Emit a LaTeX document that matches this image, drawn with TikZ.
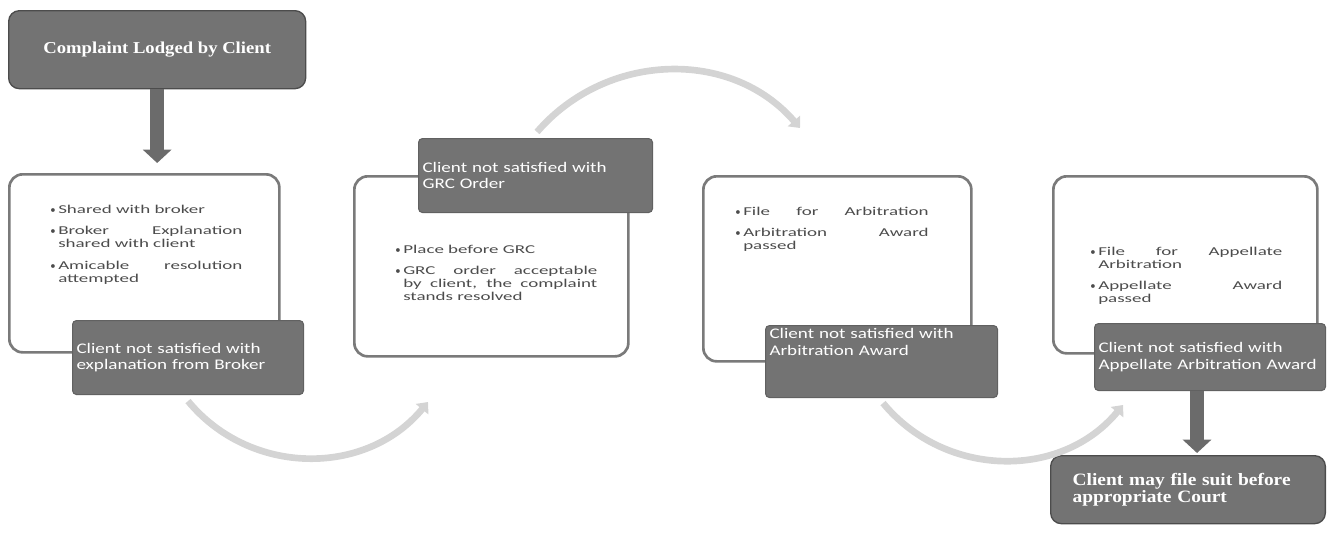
\documentclass[tikz,border=0pt]{standalone}
\usepackage{fontspec}
\newfontfamily\carl{Carlito}
\newfontfamily\carlw[FakeStretch=1.58]{Carlito}
\newfontfamily\carlm[FakeStretch=1.3]{Carlito}
\newfontfamily\tmsw[FakeStretch=1.12]{Liberation Serif}
\usetikzlibrary{arrows.meta,calc}
\newcommand\bul[1]{\noindent\hangindent=6pt\hangafter=1\makebox[6pt][l]{\carl\fontsize{8}{10}\selectfont\textbullet}#1\par}
\newcommand\gap{\vspace{6.5pt}}
\begin{document}
\begin{tikzpicture}[x=0.75pt,y=-0.75pt,
  outline/.style={draw=black!52, line width=2pt, rounded corners=10pt, fill=white, anchor=north west, inner sep=0pt},
  dark/.style={fill=black!55, draw=black!62, line width=0.8pt, rounded corners=3pt, text=white, anchor=north west,
    font=\carlm\fontsize{11}{12.5}\selectfont, align=left, inner xsep=3pt, inner ysep=2pt},
  bigbox/.style={fill=black!55, draw=black!70, line width=1pt, rounded corners=8pt, text=white, anchor=north west,
    font=\tmsw\bfseries\fontsize{12.5}{14}\selectfont, align=left},
  bullets/.style={anchor=base west, inner sep=0pt, align=justify, text=black!70,
    font=\carlw\fontsize{9}{9.75}\selectfont},
  downarr/.style={draw=black!58, line width=10.5pt, -{Triangle[length=10pt,width=21pt]}},
  curvarr/.style={draw=black!17, line width=5pt, -{Triangle[length=7pt,width=12pt]}}
]
\useasboundingbox (0,0) rectangle (1333,536);

% outlined step boxes
\node[outline, minimum width=202.5pt, minimum height=133.5pt] (b1) at (8,173) {};
\node[outline, minimum width=205.5pt, minimum height=135pt] (b2) at (353,175) {};
\node[outline, minimum width=201pt, minimum height=138.75pt] (b3) at (702,175) {};
\node[outline, minimum width=198pt, minimum height=132.75pt] (b4) at (1052,175) {};

% bullet texts
\node[bullets, text width=144pt] (t1) at (50,213) {%
  \bul{Shared with broker}\gap
  \bul{Broker Explanation\linebreak shared with client}\gap
  \bul{Amicable resolution\linebreak attempted}};
\node[bullets, text width=151.5pt] (t2) at (395,253) {%
  \bul{Place before GRC}\gap
  \bul{GRC order acceptable\linebreak by client, the complaint\linebreak stands resolved}};
\node[bullets, text width=145pt] (t3) at (735,215) {%
  \bul{File\hfill for\hfill Arbitration}\gap
  \bul{Arbitration Award\linebreak passed}};
\node[bullets, text width=144pt] (t4) at (1090,255) {%
  \bul{File for Appellate\linebreak Arbitration}\gap
  \bul{Appellate Award\linebreak passed}};

% dark boxes
\node[bigbox, minimum width=222.75pt, minimum height=58.5pt, align=center] (top) at (8,10) {Complaint Lodged by Client};
\node[dark, text width=167.25pt, minimum height=55.5pt] (d1) at (72,320) {Client not satisfied with\\explanation from Broker};
\node[dark, text width=169.5pt, minimum height=55.5pt] (d2) at (418,138) {Client not satisfied with\\GRC Order};
\node[dark, text width=168pt, text height=8pt, text depth=42pt] (d3) at (765,325) {Client not satisfied with\\Arbitration Award};
\node[dark, text width=167.25pt, minimum height=50.25pt] (d4) at (1094,323) {Client not satisfied with\\Appellate Arbitration Award};
\node[bigbox, text width=173pt, inner xsep=16.5pt, minimum height=51pt, font=\tmsw\bfseries\fontsize{13}{13}\selectfont] (bot) at (1050,455) {Client may file suit before\\appropriate Court};

% vertical arrows
\draw[downarr] (top.south) -- ($(top.south |- b1.north)+(0,-10)$);
\coordinate (a2) at ($(d4.south)+(-13,0)$);
\draw[downarr] (a2) -- ($(a2 |- bot.north)+(0,-2)$);

% curved arrows
\coordinate (c1s) at ($(d1.south west)+(116,6)$);
\coordinate (c1e) at (428,402);
\draw[curvarr] (c1s) .. controls +(62,75) and +(-62,75) .. (c1e);
\coordinate (c2s) at ($(d2.north west)+(119,-6)$);
\coordinate (c2e) at (800,128);
\draw[curvarr] (c2s) .. controls +(69,-80) and +(-69,-80) .. (c2e);
\coordinate (c3s) at ($(d3.south west)+(118,5)$);
\coordinate (c3e) at (1123,405);
\draw[curvarr] (c3s) .. controls +(62,75) and +(-62,75) .. (c3e);
\end{tikzpicture}
\end{document}
